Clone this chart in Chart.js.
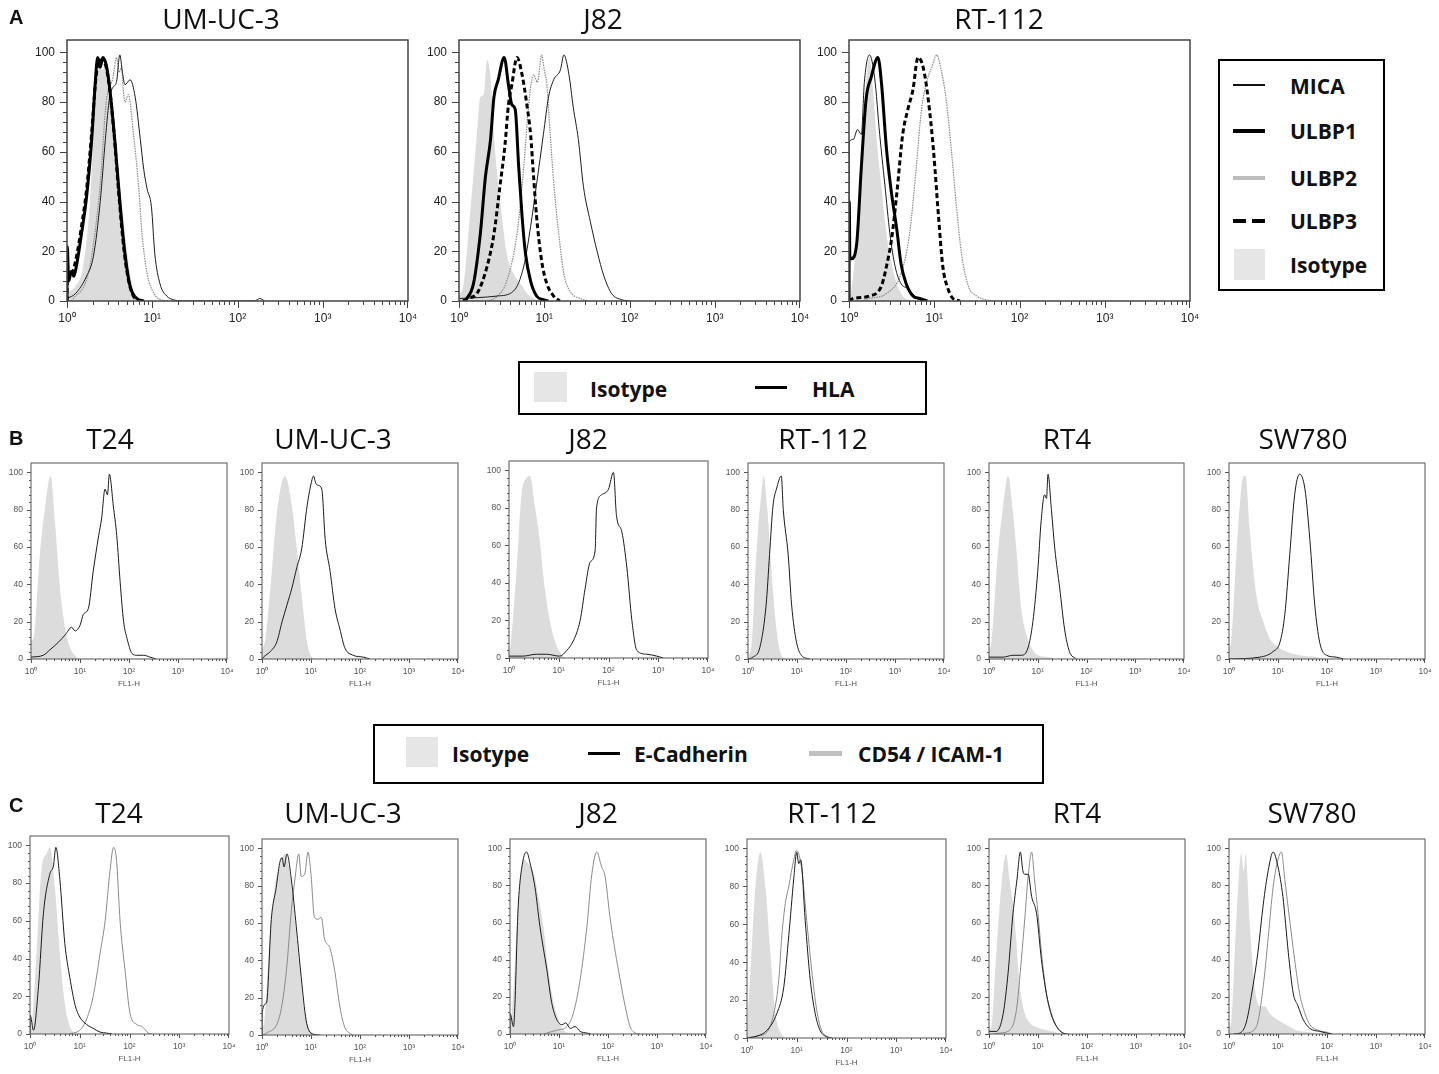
<!DOCTYPE html>
<html>
<head>
<meta charset="utf-8">
<script src="https://cdn.jsdelivr.net/npm/chart.js@4.4.0/dist/chart.umd.min.js"></script>
<style>
  body { margin: 0; background: #fff; width: 1439px; height: 1074px; position: relative; overflow: hidden; font-family: "Open Sans", sans-serif; color: #111; }
  .box { position: absolute; }
  .title { position: absolute; font-size: 28px; line-height: 1; transform: translate(-50%, -50%); white-space: nowrap; }
  .tag { position: absolute; font: bold 20px "Liberation Sans", Arial, sans-serif; line-height: 1; transform: translateY(-50%); }
  .legend { position: absolute; border: 2.5px solid #000; box-sizing: border-box; }
  .lt { position: absolute; font-weight: 700; font-size: 21px; line-height: 1; transform: translateY(-50%); white-space: nowrap; }
  .sw { position: absolute; }
</style>
</head>
<body>
<script>
// x values are log10(FL1-H), y values are % of max
const DECADES = [1, 10, 100, 1000, 10000];
const Y_TICKS = [0, 20, 40, 60, 80, 100];
const SUP = ['\u2070', '\u00b9', '\u00b2', '\u00b3', '\u2074'];

// ---- A: NKG2D ligands ----
const A_UMUC3_ISO = [[0,3],[0.1,6],[0.19,14],[0.27,40],[0.33,80],[0.37,95],[0.42,93],[0.46,95],[0.52,80],[0.6,54],[0.68,27],[0.76,7],[0.82,1],[0.9,0]];
const A_UMUC3_MICA = [[0,1],[0.1,3],[0.23,10],[0.31,18],[0.39,40],[0.45,65],[0.5,82],[0.54,86],[0.58,88],[0.62,99],[0.65,92],[0.68,87],[0.74,89],[0.8,82],[0.86,65],[0.9,53],[0.94,45],[0.99,38],[1.03,19],[1.09,7],[1.17,2],[1.25,0.5],[1.35,0],[2.2,0],[2.26,1],[2.32,0]];
const A_UMUC3_ULBP1 = [[0,0],[0.003,22],[0.02,8],[0.05,12],[0.08,10],[0.11,14],[0.17,27],[0.23,42],[0.29,65],[0.33,87],[0.36,98],[0.39,94],[0.42,98],[0.46,95],[0.5,86],[0.56,65],[0.62,40],[0.68,19],[0.74,6],[0.82,1],[0.9,0]];
const A_UMUC3_ULBP2 = [[0.05,0],[0.1,2],[0.2,6],[0.27,14],[0.33,28],[0.39,47],[0.46,80],[0.54,90],[0.58,98],[0.61,92],[0.64,94],[0.66,85],[0.68,80],[0.72,83],[0.78,67],[0.84,46],[0.88,27],[0.94,11],[1.02,3],[1.1,0.5],[1.2,0]];
const A_UMUC3_ULBP3 = [[0,0],[0.003,14],[0.04,10],[0.1,16],[0.17,30],[0.23,45],[0.29,68],[0.34,90],[0.38,97],[0.44,96],[0.49,88],[0.55,68],[0.61,42],[0.67,20],[0.73,7],[0.8,1],[0.88,0]];

const A_J82_ISO = [[0,2],[0.055,7],[0.13,35],[0.21,67],[0.25,82],[0.29,83],[0.33,97],[0.37,90],[0.41,67],[0.45,50],[0.5,35],[0.56,19],[0.64,11],[0.72,7],[0.8,3],[0.875,1],[0.95,0]];
const A_J82_MICA = [[0,1],[0.45,2],[0.64,4],[0.76,14],[0.84,30],[0.91,47],[0.99,67],[1.05,82],[1.11,89],[1.19,93],[1.23,99],[1.29,91],[1.34,78],[1.4,65],[1.46,46],[1.54,32],[1.62,20],[1.7,10],[1.79,3],[1.91,0.5],[2.0,0]];
const A_J82_ULBP1 = [[0.05,0],[0.09,1],[0.17,7],[0.25,27],[0.31,50],[0.37,65],[0.41,82],[0.46,89],[0.53,98],[0.58,87],[0.62,79],[0.66,77],[0.7,54],[0.74,34],[0.78,19],[0.84,8],[0.91,2],[0.99,0.5],[1.05,0]];
const A_J82_ULBP2 = [[0.35,0],[0.45,2],[0.56,8],[0.68,27],[0.76,54],[0.82,80],[0.875,91],[0.92,88],[0.97,99],[1.0,93],[1.03,87],[1.07,67],[1.11,48],[1.17,27],[1.23,11],[1.3,4],[1.42,1],[1.52,0]];
const A_J82_ULBP3 = [[0.05,0],[0.1,1],[0.21,3],[0.33,14],[0.41,27],[0.48,46],[0.54,63],[0.58,79],[0.62,87],[0.68,98],[0.74,91],[0.8,78],[0.84,67],[0.875,50],[0.91,34],[0.97,16],[1.03,7],[1.11,2],[1.18,0]];

const A_RT112_ISO = [[0,2],[0.03,5],[0.09,27],[0.145,61],[0.2,88],[0.24,98],[0.28,86],[0.32,67],[0.38,46],[0.44,27],[0.5,15],[0.56,7],[0.63,2],[0.71,0]];
const A_RT112_MICA = [[0,0],[0.003,64],[0.05,65],[0.1,69],[0.145,67],[0.18,88],[0.24,99],[0.3,90],[0.36,67],[0.42,47],[0.48,27],[0.54,14],[0.61,7],[0.69,5],[0.77,2],[0.85,0]];
const A_RT112_ULBP1 = [[0,0],[0.003,40],[0.01,18],[0.03,17],[0.09,23],[0.145,54],[0.2,81],[0.26,90],[0.34,98],[0.38,88],[0.44,61],[0.5,43],[0.56,29],[0.61,15],[0.67,7],[0.75,2],[0.83,1],[0.92,0]];
const A_RT112_ULBP2 = [[0.15,0],[0.24,1],[0.44,3],[0.61,11],[0.71,27],[0.79,54],[0.85,77],[0.91,88],[0.97,94],[1.03,99],[1.08,93],[1.14,81],[1.2,61],[1.26,38],[1.32,19],[1.4,6],[1.5,2],[1.61,0.5],[1.7,0]];
const A_RT112_ULBP3 = [[0,0],[0.05,1],[0.24,2],[0.38,6],[0.44,14],[0.5,25],[0.56,43],[0.63,67],[0.69,77],[0.75,85],[0.81,98],[0.87,94],[0.93,81],[0.99,61],[1.05,34],[1.1,14],[1.16,5],[1.22,1],[1.3,0]];

// ---- B: HLA ----
const B_T24_ISO = [[0,10],[0.05,11],[0.18,56],[0.29,82],[0.4,98],[0.49,73],[0.59,38],[0.7,16],[0.8,6],[0.93,1],[1.0,0]];
const B_T24_HLA = [[0,1],[0.25,2],[0.39,5],[0.56,9],[0.7,13],[0.83,17],[0.9,15],[1.0,18],[1.07,24],[1.17,27],[1.27,47],[1.38,66],[1.44,75],[1.51,91],[1.56,88],[1.6,99],[1.68,82],[1.75,66],[1.82,41],[1.89,20],[1.96,11],[2.06,3],[2.16,2],[2.3,2],[2.43,1],[2.55,0]];
const B_UMUC3_ISO = [[0,5],[0.07,11],[0.2,47],[0.3,77],[0.47,98],[0.61,82],[0.71,59],[0.81,34],[0.92,9],[1.02,1],[1.1,0]];
const B_UMUC3_HLA = [[0,0],[0.03,1],[0.17,4],[0.3,9],[0.41,20],[0.51,29],[0.61,38],[0.71,49],[0.81,59],[0.92,82],[1.02,96],[1.05,98],[1.1,94],[1.15,93],[1.22,91],[1.29,64],[1.39,47],[1.49,27],[1.59,16],[1.69,6],[1.86,2],[2.07,1],[2.2,0]];
const B_J82_ISO = [[0,3],[0.03,7],[0.15,46],[0.25,87],[0.35,96],[0.42,97],[0.52,81],[0.62,62],[0.72,37],[0.82,20],[0.92,9],[1.02,3],[1.12,0]];
const B_J82_HLA = [[0,1],[0.28,1],[0.55,2],[0.75,2],[1.02,1],[1.16,4],[1.29,9],[1.43,20],[1.53,37],[1.63,51],[1.73,57],[1.76,80],[1.86,87],[2.0,90],[2.1,99],[2.16,76],[2.27,67],[2.37,48],[2.47,20],[2.57,4],[2.77,2],[2.97,1],[3.1,0]];
const B_RT112_ISO = [[0,2],[0.07,7],[0.17,56],[0.27,88],[0.32,98],[0.39,82],[0.48,47],[0.58,16],[0.68,2],[0.78,0]];
const B_RT112_HLA = [[0,0],[0.1,1],[0.24,6],[0.37,29],[0.44,56],[0.51,82],[0.58,91],[0.68,98],[0.72,80],[0.82,56],[0.89,29],[0.99,9],[1.09,2],[1.26,0]];
const B_RT4_ISO = [[0,5],[0.05,9],[0.18,56],[0.29,82],[0.39,98],[0.49,79],[0.56,59],[0.66,27],[0.77,13],[0.87,6],[1.0,2],[1.24,1],[1.35,0]];
const B_RT4_HLA = [[0,1],[0.29,1],[0.49,2],[0.66,2],[0.8,6],[0.9,20],[1.0,47],[1.07,74],[1.14,88],[1.18,86],[1.21,99],[1.28,80],[1.35,59],[1.45,38],[1.55,16],[1.65,4],[1.79,0]];
const B_SW780_ISO = [[0,5],[0.05,11],[0.15,56],[0.25,91],[0.3,98],[0.34,98],[0.42,70],[0.56,34],[0.7,20],[0.83,11],[0.97,7],[1.17,4],[1.44,2],[1.79,1],[1.93,0]];
const B_SW780_HLA = [[0,0],[0.63,1],[0.9,4],[1.04,9],[1.14,24],[1.24,56],[1.34,88],[1.44,99],[1.55,91],[1.65,64],[1.75,29],[1.85,9],[1.99,2],[2.19,1],[2.33,0]];

// ---- C: E-Cadherin and CD54 / ICAM-1 ----
const C_T24_ISO = [[0,2],[0.03,4],[0.13,43],[0.23,87],[0.34,96],[0.4,99],[0.5,78],[0.6,43],[0.7,16],[0.8,4],[0.91,0]];
const C_T24_ECAD = [[0,0],[0.003,10],[0.07,2],[0.17,25],[0.27,64],[0.4,85],[0.47,89],[0.52,99],[0.6,82],[0.7,48],[0.8,30],[0.91,15],[1.0,9],[1.14,5],[1.27,3],[1.41,1],[1.54,0.5],[1.65,0]];
const C_T24_CD54 = [[0.8,0],[0.87,0.5],[1.0,2],[1.14,8],[1.27,20],[1.41,43],[1.51,60],[1.61,87],[1.68,99],[1.74,92],[1.81,60],[1.91,34],[2.01,11],[2.15,5],[2.25,4],[2.38,0.5],[2.45,0]];
const C_UMUC3_ISO = [[0,3],[0.05,8],[0.16,53],[0.26,79],[0.36,90],[0.46,97],[0.56,88],[0.67,62],[0.77,35],[0.87,12],[0.97,3],[1.05,0]];
const C_UMUC3_ECAD = [[0,0],[0.003,12],[0.09,17],[0.19,62],[0.29,79],[0.36,92],[0.41,95],[0.45,90],[0.51,97],[0.6,83],[0.7,58],[0.8,31],[0.9,8],[1.0,1],[1.18,0]];
const C_UMUC3_CD54 = [[0,0],[0.09,1],[0.36,10],[0.5,35],[0.6,67],[0.67,83],[0.75,97],[0.8,85],[0.87,86],[0.94,98],[1.0,86],[1.07,63],[1.14,62],[1.21,63],[1.28,51],[1.38,47],[1.48,35],[1.59,15],[1.69,4],[1.79,1],[1.85,0]];
const C_J82_ISO = [[0,3],[0.03,8],[0.17,70],[0.27,94],[0.37,92],[0.48,87],[0.58,74],[0.68,58],[0.78,35],[0.89,17],[0.99,8],[1.09,2],[1.23,0.5],[1.3,0]];
const C_J82_ECAD = [[0,0],[0.003,11],[0.07,4],[0.17,70],[0.27,94],[0.34,98],[0.41,92],[0.51,79],[0.61,58],[0.75,35],[0.85,17],[0.95,8],[1.06,5],[1.14,6],[1.23,3],[1.33,4],[1.43,1.4],[1.57,0.5],[1.65,0]];
const C_J82_CD54 = [[0.7,0],[0.75,0.5],[0.95,2],[1.16,4],[1.29,11],[1.43,29],[1.57,58],[1.67,86],[1.77,98],[1.87,90],[1.94,85],[2.04,63],[2.15,44],[2.25,29],[2.35,15],[2.45,4],[2.56,0.5],[2.65,0]];
const C_RT112_ISO = [[0,5],[0.07,36],[0.17,80],[0.27,98],[0.37,80],[0.47,45],[0.57,13],[0.67,3],[0.77,0]];
const C_RT112_ECAD = [[0,0],[0.2,1],[0.4,4],[0.6,13],[0.74,27],[0.84,54],[0.94,84],[1.0,98],[1.04,92],[1.08,94],[1.17,62],[1.27,31],[1.37,13],[1.47,4],[1.61,0.5],[1.7,0]];
const C_RT112_CD54 = [[0,0],[0.2,1],[0.4,3],[0.54,13],[0.64,31],[0.7,54],[0.77,71],[0.84,80],[0.94,94],[1.0,99],[1.1,89],[1.2,62],[1.3,36],[1.4,15],[1.5,4],[1.64,0.5],[1.72,0]];
const C_RT4_ISO = [[0,2],[0.05,4],[0.15,44],[0.25,79],[0.35,97],[0.42,83],[0.52,62],[0.63,26],[0.73,11],[0.83,6],[1.04,3],[1.31,1.4],[1.45,0]];
const C_RT4_ECAD = [[0,1.4],[0.15,1.4],[0.29,11],[0.39,33],[0.49,65],[0.57,83],[0.64,98],[0.69,88],[0.73,86],[0.8,86],[0.87,74],[0.97,65],[1.07,40],[1.17,22],[1.27,11],[1.38,4],[1.51,0.5],[1.6,0]];
const C_RT4_CD54 = [[0.1,0],[0.22,0.5],[0.42,2],[0.56,13],[0.66,40],[0.73,62],[0.8,85],[0.87,98],[0.93,83],[1.0,65],[1.07,44],[1.17,22],[1.27,10],[1.38,4],[1.51,0.5],[1.6,0]];
const C_SW780_ISO = [[0,3],[0.05,8],[0.15,61],[0.25,97],[0.3,88],[0.34,97],[0.42,61],[0.52,26],[0.63,15],[0.73,15],[0.83,11],[0.97,8],[1.17,5],[1.38,2],[1.65,1],[1.85,0]];
const C_SW780_ECAD = [[0.1,0],[0.22,0.5],[0.35,6],[0.49,26],[0.59,44],[0.7,70],[0.8,88],[0.9,98],[1.0,90],[1.1,74],[1.21,44],[1.31,22],[1.41,15],[1.51,8],[1.65,3],[1.85,1.4],[1.99,0.5],[2.1,0]];
const C_SW780_CD54 = [[0.2,0],[0.35,0.5],[0.56,4],[0.7,26],[0.8,52],[0.9,79],[1.0,94],[1.07,98],[1.14,83],[1.24,61],[1.34,40],[1.44,22],[1.55,11],[1.65,5],[1.82,2],[1.99,1],[2.1,0]];

const STYLE = {
  Isotype: { fill: 'origin', backgroundColor: '#dcdcdc', borderWidth: 0, borderColor: 'transparent', order: 10 },
  MICA: { borderColor: '#1c1c1c', borderWidth: 1 },
  ULBP1: { borderColor: '#000', borderWidth: 3 },
  ULBP2: { borderColor: '#8c8c8c', borderWidth: 1.2, borderDash: [1.5, 1] },
  ULBP3: { borderColor: '#000', borderWidth: 3, borderDash: [5, 3] },
  HLA: { borderColor: '#1a1a1a', borderWidth: 1 },
  'E-Cadherin': { borderColor: '#1a1a1a', borderWidth: 1 },
  'CD54 / ICAM-1': { borderColor: '#8a8a8a', borderWidth: 1 }
};

const ROW_A = { font: 12, tickColor: '#222', yPad: 12, xPad: 10, padL: 50, fl1: false, major: 7, minor: 4, frame: '#444', frameW: 1.5 };
const ROW_BC = { font: 8.5, tickColor: '#555', yPad: 8, xPad: 8, padL: 30, fl1: true, major: 4, minor: 2, frame: '#555', frameW: 1 };

const PANELS = [
  { cfg: ROW_A, frame: [67, 40, 408, 301], series: [['ULBP1', A_UMUC3_ULBP1], ['ULBP3', A_UMUC3_ULBP3], ['MICA', A_UMUC3_MICA], ['ULBP2', A_UMUC3_ULBP2], ['Isotype', A_UMUC3_ISO]] },
  { cfg: ROW_A, frame: [459, 40, 800, 301], series: [['ULBP1', A_J82_ULBP1], ['ULBP3', A_J82_ULBP3], ['MICA', A_J82_MICA], ['ULBP2', A_J82_ULBP2], ['Isotype', A_J82_ISO]] },
  { cfg: ROW_A, frame: [849, 40, 1190, 301], series: [['ULBP1', A_RT112_ULBP1], ['ULBP3', A_RT112_ULBP3], ['MICA', A_RT112_MICA], ['ULBP2', A_RT112_ULBP2], ['Isotype', A_RT112_ISO]] },

  { cfg: ROW_BC, frame: [31, 463, 227, 659], series: [['HLA', B_T24_HLA], ['Isotype', B_T24_ISO]] },
  { cfg: ROW_BC, frame: [262, 463, 458, 659], series: [['HLA', B_UMUC3_HLA], ['Isotype', B_UMUC3_ISO]] },
  { cfg: ROW_BC, frame: [509, 461, 708, 658], series: [['HLA', B_J82_HLA], ['Isotype', B_J82_ISO]] },
  { cfg: ROW_BC, frame: [748, 463, 944, 659], series: [['HLA', B_RT112_HLA], ['Isotype', B_RT112_ISO]] },
  { cfg: ROW_BC, frame: [989, 463, 1184, 659], series: [['HLA', B_RT4_HLA], ['Isotype', B_RT4_ISO]] },
  { cfg: ROW_BC, frame: [1229, 463, 1425, 659], series: [['HLA', B_SW780_HLA], ['Isotype', B_SW780_ISO]] },

  { cfg: ROW_BC, frame: [30, 836, 229, 1034], series: [['E-Cadherin', C_T24_ECAD], ['CD54 / ICAM-1', C_T24_CD54], ['Isotype', C_T24_ISO]] },
  { cfg: ROW_BC, frame: [262, 839, 458, 1035], series: [['E-Cadherin', C_UMUC3_ECAD], ['CD54 / ICAM-1', C_UMUC3_CD54], ['Isotype', C_UMUC3_ISO]] },
  { cfg: ROW_BC, frame: [510, 839, 706, 1034], series: [['E-Cadherin', C_J82_ECAD], ['CD54 / ICAM-1', C_J82_CD54], ['Isotype', C_J82_ISO]] },
  { cfg: ROW_BC, frame: [747, 839, 946, 1038], series: [['E-Cadherin', C_RT112_ECAD], ['CD54 / ICAM-1', C_RT112_CD54], ['Isotype', C_RT112_ISO]] },
  { cfg: ROW_BC, frame: [989, 839, 1185, 1034], series: [['E-Cadherin', C_RT4_ECAD], ['CD54 / ICAM-1', C_RT4_CD54], ['Isotype', C_RT4_ISO]] },
  { cfg: ROW_BC, frame: [1229, 839, 1425, 1034], series: [['E-Cadherin', C_SW780_ECAD], ['CD54 / ICAM-1', C_SW780_CD54], ['Isotype', C_SW780_ISO]] }
];

const TITLES = [
  ['UM-UC-3', 221, 18], ['J82', 603, 18], ['RT-112', 999, 18],
  ['T24', 110, 438], ['UM-UC-3', 333, 438], ['J82', 588, 438], ['RT-112', 823, 438], ['RT4', 1067, 438], ['SW780', 1303, 438],
  ['T24', 119, 812], ['UM-UC-3', 343, 812], ['J82', 598, 812], ['RT-112', 832, 812], ['RT4', 1077, 812], ['SW780', 1312, 812]
];

// frame box plus outward tick marks (major + minor) drawn off the chart's own scales
const frameTicks = {
  id: 'frameTicks',
  afterDraw(chart, args, o) {
    const { ctx, chartArea: a, scales: { x, y } } = chart;
    ctx.save();
    ctx.strokeStyle = o.color;
    ctx.lineWidth = o.width;
    ctx.strokeRect(a.left, a.top, a.right - a.left, a.bottom - a.top);
    ctx.lineWidth = 1;
    ctx.beginPath();
    for (let d = 0; d < 4; d++) {
      for (let m = 1; m < 10; m++) {
        const px = Math.round(x.getPixelForValue(m * 10 ** d)) + 0.5;
        ctx.moveTo(px, a.bottom);
        ctx.lineTo(px, a.bottom + (m === 1 ? o.major : o.minor));
      }
    }
    const pxEnd = Math.round(x.getPixelForValue(10000)) - 0.5;
    ctx.moveTo(pxEnd, a.bottom);
    ctx.lineTo(pxEnd, a.bottom + o.major);
    for (let v = 0; v <= 100; v += 4) {
      const py = Math.round(y.getPixelForValue(v)) + 0.5;
      ctx.moveTo(a.left, py);
      ctx.lineTo(a.left - (v % 20 === 0 ? o.major : o.minor), py);
    }
    ctx.stroke();
    ctx.restore();
  }
};
Chart.register(frameTicks);
Chart.defaults.font.family = '"Liberation Sans", Arial, sans-serif';

function makePanel(p) {
  const c = p.cfg;
  const [l, t, r, b] = p.frame;
  const padT = 8, padR = 14, padB = 30;
  const div = document.createElement('div');
  div.className = 'box';
  div.style.left = (l - c.padL) + 'px';
  div.style.top = (t - padT) + 'px';
  div.style.width = (r - l + c.padL + padR) + 'px';
  div.style.height = (b - t + padT + padB) + 'px';
  const cv = document.createElement('canvas');
  div.appendChild(cv);
  document.body.appendChild(div);

  new Chart(cv, {
    type: 'line',
    data: {
      datasets: p.series.map(([name, pts]) => Object.assign({
        label: name,
        data: pts.map(([e, v]) => ({ x: 10 ** e, y: v })),
        pointRadius: 0,
        cubicInterpolationMode: 'monotone',
        fill: false
      }, STYLE[name]))
    },
    options: {
      responsive: true,
      maintainAspectRatio: false,
      animation: false,
      events: [],
      layout: { padding: { top: padT, right: padR, left: 0, bottom: 0 } },
      plugins: {
        legend: { display: false },
        tooltip: { enabled: false },
        frameTicks: { color: c.frame, width: c.frameW, major: c.major, minor: c.minor }
      },
      scales: {
        x: {
          type: 'logarithmic',
          min: 1,
          max: 10000,
          afterBuildTicks: s => { s.ticks = DECADES.map(v => ({ value: v })); },
          afterFit: s => { s.height = padB; s.paddingLeft = 0; s.paddingRight = 0; },
          grid: { display: false, drawTicks: false },
          border: { display: false },
          ticks: {
            callback: v => '10' + SUP[Math.round(Math.log10(v))],
            font: { size: c.font },
            color: c.tickColor,
            padding: c.xPad,
            maxRotation: 0,
            autoSkip: false
          },
          title: { display: c.fl1, text: 'FL1-H', font: { size: 8 }, color: '#555', padding: 0 }
        },
        y: {
          type: 'linear',
          min: 0,
          max: 105,
          afterBuildTicks: s => { s.ticks = Y_TICKS.map(v => ({ value: v })); },
          afterFit: s => { s.width = c.padL; s.paddingTop = 0; s.paddingBottom = 0; },
          grid: { display: false, drawTicks: false },
          border: { display: false },
          ticks: { font: { size: c.font }, color: c.tickColor, padding: c.yPad }
        }
      }
    }
  });
}

PANELS.forEach(makePanel);

// titles and panel tags
function addText(cls, text, x, y) {
  const d = document.createElement('div');
  d.className = cls;
  d.textContent = text;
  d.style.left = x + 'px';
  d.style.top = y + 'px';
  document.body.appendChild(d);
  return d;
}
TITLES.forEach(([t, x, y]) => addText('title', t, x, y));
addText('tag', 'A', 9, 17);
addText('tag', 'B', 9, 438);
addText('tag', 'C', 9, 805);

// legend boxes
function addBox(l, t, w, h) {
  const d = document.createElement('div');
  d.className = 'legend';
  Object.assign(d.style, { left: l + 'px', top: t + 'px', width: w + 'px', height: h + 'px' });
  document.body.appendChild(d);
}
function addSwatch(l, t, w, h, bg) {
  const d = document.createElement('div');
  d.className = 'sw';
  Object.assign(d.style, { left: l + 'px', top: t + 'px', width: w + 'px', height: h + 'px', background: bg });
  document.body.appendChild(d);
}
const DASH = 'linear-gradient(90deg,#000 0 13px,transparent 13px 19px,#000 19px 32px)';

addBox(1218, 59, 167, 232);
addSwatch(1233, 84, 32, 1.5, '#111');       addText('lt', 'MICA', 1290, 86);
addSwatch(1233, 129, 32, 4, '#000');        addText('lt', 'ULBP1', 1290, 131);
addSwatch(1233, 176, 32, 4, '#bdbdbd');     addText('lt', 'ULBP2', 1290, 178);
addSwatch(1233, 219, 32, 4, DASH);          addText('lt', 'ULBP3', 1290, 221);
addSwatch(1234, 249, 31, 31, '#e6e6e6');    addText('lt', 'Isotype', 1290, 265);

addBox(518, 361, 409, 54);
addSwatch(534, 372, 33, 30, '#e6e6e6');     addText('lt', 'Isotype', 590, 389);
addSwatch(755, 386, 32, 3, '#000');         addText('lt', 'HLA', 812, 389);

addBox(373, 724, 671, 60);
addSwatch(406, 737, 32, 30, '#e6e6e6');     addText('lt', 'Isotype', 452, 754);
addSwatch(588, 752, 32, 3, '#000');         addText('lt', 'E-Cadherin', 634, 754);
addSwatch(809, 751, 33, 5, '#c0c0c0');      addText('lt', 'CD54 / ICAM-1', 858, 754);
</script>
</body>
</html>
